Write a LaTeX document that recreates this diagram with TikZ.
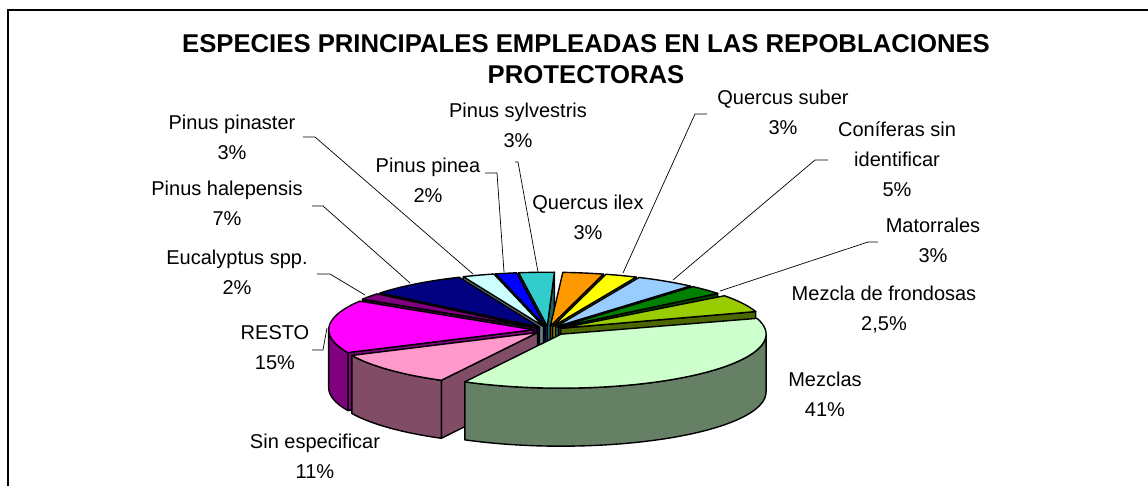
\documentclass[tikz,border=0pt]{standalone}
\usepackage{fontspec}
\setmainfont{Liberation Sans}
\definecolor{cMez}{HTML}{CCFFCC}
\definecolor{cSin}{HTML}{FF99CC}
\definecolor{cRes}{HTML}{FF00FF}
\definecolor{cEuc}{HTML}{800080}
\definecolor{cHal}{HTML}{000080}
\definecolor{cPin}{HTML}{CCFFFF}
\definecolor{cPnea}{HTML}{0000FF}
\definecolor{cSyl}{HTML}{33CCCC}
\definecolor{cIlex}{HTML}{FF9900}
\definecolor{cSub}{HTML}{FFFF00}
\definecolor{cCon}{HTML}{99CCFF}
\definecolor{cMat}{HTML}{008000}
\definecolor{cMfr}{HTML}{99CC00}
\def\CX{548}\def\CY{330}\def\RX{205}\def\RY{54}\def\H{58}
\newcommand\pieSlice[4]{%
  \pgfmathsetmacro\pmid{(#1+#2)/2}%
  \pgfmathsetmacro\pax{\CX+#4*\RX*cos(\pmid)}%
  \pgfmathsetmacro\pay{\CY+#4*\RY*sin(\pmid)}%
  \pgfmathtruncatemacro\visS{cos(#1)<0}%
  \pgfmathtruncatemacro\visE{cos(#2)>0}%
  \pgfmathsetmacro\sideA{max(#1,0)}%
  \pgfmathsetmacro\sideB{min(#2,180)}%
  \pgfmathtruncatemacro\hasSide{\sideB>\sideA}%
  \begin{scope}[shift={(\pax,\pay)}]
    \ifnum\visS=1 \filldraw[pieface,fill=#3!50!black] (0,0) -- ({\RX*cos(#1)},{\RY*sin(#1)}) -- ++(0,\H) -- (0,\H) -- cycle;\fi
    \ifnum\visE=1 \filldraw[pieface,fill=#3!50!black] (0,0) -- ({\RX*cos(#2)},{\RY*sin(#2)}) -- ++(0,\H) -- (0,\H) -- cycle;\fi
    \ifnum\hasSide=1 \filldraw[pieface,fill=#3!50!black] ({\RX*cos(\sideA)},{\RY*sin(\sideA)}) arc[start angle=\sideA,end angle=\sideB,x radius=\RX,y radius=\RY] -- ++(0,\H) arc[start angle=\sideB,end angle=\sideA,x radius=\RX,y radius=\RY] -- cycle;\fi
    \filldraw[pieface,fill=#3] (0,0) -- ({\RX*cos(#1)},{\RY*sin(#1)}) arc[start angle=#1,end angle=#2,x radius=\RX,y radius=\RY] -- cycle;
  \end{scope}}
\begin{document}
\begin{tikzpicture}[x=1pt,y=-1pt,
  pieface/.style={draw=black,line width=1.4pt,line join=round},
  lbl/.style={align=center,inner sep=0pt,font=\fontsize{20}{30}\selectfont},
  leader/.style={draw=black,line width=0.7pt}]
\useasboundingbox[fill=white] (0,0) rectangle (1148,486);
\draw[line width=1.5pt] (8,486) -- (8,10) -- (1148,10);
\node[align=center,inner sep=0pt,font=\bfseries\fontsize{25.7}{31}\selectfont] (title) at (586,59)
  {ESPECIES PRINCIPALES EMPLEADAS EN LAS REPOBLACIONES\\PROTECTORAS};
% labels
\node[lbl] (lPinaster) at (232,137) {Pinus pinaster\\3\%};
\node[lbl] (lHal) at (227,203) {Pinus halepensis\\7\%};
\node[lbl] (lEuc) at (237,272) {Eucalyptus spp.\\2\%};
\node[lbl] (lPinea) at (428,180) {Pinus pinea\\2\%};
\node[lbl] (lSyl) at (518,125) {Pinus sylvestris\\3\%};
\node[lbl] (lIlex) at (588,217) {Quercus ilex\\3\%};
\node[lbl] (lSub) at (783,112) {Quercus suber\\3\%};
\node[lbl] (lCon) at (897,159) {Coníferas sin\\identificar\\5\%};
\node[lbl] (lMat) at (933,240) {Matorrales\\3\%};
\node[lbl] (lMfr) at (884,310) {Mezcla de frondosas\\2,5\%};
\node[lbl] (lMez) at (825,394) {Mezclas\\41\%};
\node[lbl] (lSin) at (315,456) {Sin especificar\\11\%};
\node[lbl] (lRes) at (275,348) {RESTO\\15\%};
% leader coordinates
\coordinate (pA) at (303,137); \coordinate (pB) at (315,137); \coordinate (pC) at (473,274);
\coordinate (hA) at (312,206); \coordinate (hB) at (323,206); \coordinate (hC) at (410,283);
\coordinate (eA) at (317,274); \coordinate (eB) at (330,274); \coordinate (eC) at (365,295);
\coordinate (nA) at (485,173); \coordinate (nB) at (497,173); \coordinate (nC) at (504,272);
\coordinate (yA) at (515,162); \coordinate (yB) at (518,162); \coordinate (yC) at (538,272);
\coordinate (sA) at (707,114); \coordinate (sB) at (695,114); \coordinate (sC) at (623,273);
\coordinate (cA) at (828,160); \coordinate (cB) at (815,160); \coordinate (cC) at (673,280);
\coordinate (mA) at (878,242); \coordinate (mB) at (868,242); \coordinate (mC) at (720,291);
\coordinate (rA) at (312,350); \coordinate (rB) at (323,350); \coordinate (rC) at (327,328);
\foreach \p in {p,h,e,n,y,s,c,m,r} {\draw[leader] (\p A) -- (\p B) -- (\p C);}
% pie slices, back to front
\pieSlice{262}{272}{cSyl}{0.07}
\pieSlice{273.5}{285}{cIlex}{0.07}
\pieSlice{256}{262}{cPnea}{0.07}
\pieSlice{247}{256}{cPin}{0.07}
\pieSlice{285}{294}{cSub}{0.07}
\pieSlice{294}{311}{cCon}{0.07}
\pieSlice{219}{247}{cHal}{0.07}
\pieSlice{311}{321}{cMat}{0.07}
\pieSlice{212}{219}{cEuc}{0.07}
\pieSlice{323}{342}{cMfr}{0.07}
\pieSlice{155}{212}{cRes}{0.07}
\pieSlice{118}{155}{cSin}{0.07}
\pieSlice{-17}{118}{cMez}{0.10}
\end{tikzpicture}
\end{document}
